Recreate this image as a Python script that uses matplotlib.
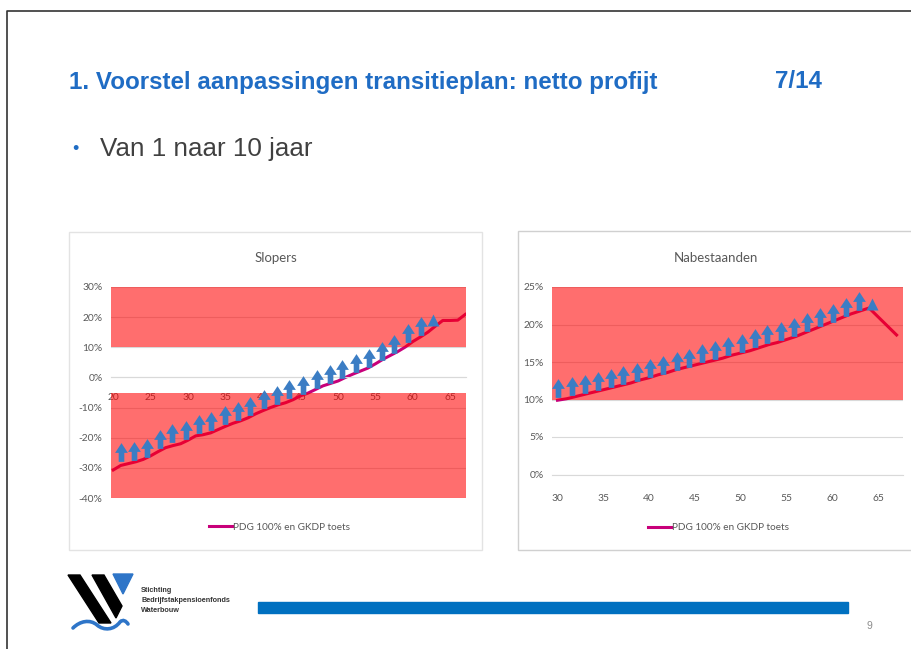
import matplotlib.pyplot as plt
from matplotlib.path import Path
from matplotlib.patches import Rectangle, Polygon, PathPatch
from matplotlib.ticker import FuncFormatter

W, H = 911, 649

# --- data ---
slopers_age = list(range(20, 68))
slopers_pdg = [-30.7, -29.2, -28.6, -28.0, -27.2, -26.0, -24.6, -23.3, -22.6, -22.0,
               -20.8, -19.4, -19.0, -18.4, -17.3, -16.2, -15.2, -14.4, -13.4, -12.1,
               -11.0, -10.0, -9.1, -8.4, -7.4, -6.1, -5.2, -4.0, -2.8, -2.0,
               -1.2, 0.0, 1.1, 2.1, 3.1, 4.5, 6.0, 7.3, 8.6, 10.1,
               11.9, 13.4, 15.0, 17.0, 18.9, 18.9, 19.0, 20.9]
slopers_arrow_age = [21.1, 22.8, 24.5, 26.2, 27.9, 29.7, 31.5, 33.1, 34.9, 36.6,
                     38.3, 40.1, 41.8, 43.5, 45.4, 47.2, 48.9, 50.6, 52.4, 54.1,
                     55.9, 57.5, 59.3, 61.1, 62.7]
slopers_arrow_val = [-24.8, -24.4, -23.3, -20.3, -18.5, -17.3, -15.3, -14.5, -12.6, -11.0,
                     -9.6, -7.1, -5.7, -4.0, -2.5, -0.6, 1.0, 2.8, 4.8, 6.5,
                     8.9, 11.1, 14.8, 17.1, 18.9]
slopers_bands = [(10, 30), (-40, -5)]

nabest_age = list(range(30, 68))
nabest_pdg = [9.9, 10.1, 10.4, 10.7, 11.0, 11.3, 11.6, 11.9, 12.2, 12.6,
              12.9, 13.3, 13.6, 14.0, 14.3, 14.6, 14.9, 15.2, 15.5, 15.9,
              16.2, 16.5, 16.9, 17.3, 17.6, 18.0, 18.4, 18.9, 19.4, 19.9,
              20.4, 20.9, 21.4, 21.8, 22.2, 21.0, 19.8, 18.6]
nabest_arrow_age = [30.1, 31.6, 33.0, 34.4, 35.8, 37.2, 38.7, 40.1, 41.5, 43.0,
                    44.4, 45.8, 47.2, 48.6, 50.1, 51.5, 52.9, 54.4, 55.8, 57.2,
                    58.6, 60.1, 61.5, 62.9, 64.3]
nabest_arrow_val = [11.6, 11.8, 12.1, 12.5, 12.9, 13.3, 13.7, 14.2, 14.6, 15.2,
                    15.6, 16.2, 16.6, 17.1, 17.6, 18.2, 18.7, 19.2, 19.7, 20.3,
                    21.0, 21.6, 22.3, 23.1, 22.8]
nabest_bands = [(10, 25)]

legend_label = 'PDG 100% en GKDP toets'
BLUE = '#1F6CC4'
ARROW = '#3B7DC4'
LINE = '#C8007A'
TXT = '#595959'
GRID = '#D9D9D9'

arrow = Path([(0, 0.5), (0.34, -0.02), (0.15, -0.02), (0.15, -0.5), (-0.15, -0.5),
              (-0.15, -0.02), (-0.34, -0.02), (0, 0.5)],
             [Path.MOVETO] + [Path.LINETO] * 6 + [Path.CLOSEPOLY])


def box(x0, y0, x1, y1):
    # pixel box -> figure fraction rect
    return [x0 / W, 1 - y1 / H, (x1 - x0) / W, (y1 - y0) / H]


fig = plt.figure(figsize=(W / 100, H / 100), dpi=100)
bg = fig.add_axes([0, 0, 1, 1], zorder=0)
bg.set_xlim(0, W)
bg.set_ylim(H, 0)
bg.axis('off')

# slide frame
bg.plot([6.5, 6.5, W], [H, 10.5, 10.5], color='#333333', lw=1.2)

bg.text(69, 82, '1. Voorstel aanpassingen transitieplan: netto profijt', color=BLUE,
        fontsize=17.4, fontweight='bold', family='Liberation Sans', va='center')
bg.text(775, 82, '7/14', color=BLUE, fontsize=17.4, fontweight='bold',
        family='Liberation Sans', va='center')
bg.text(72, 149, '•', color=BLUE, fontsize=13, family='Liberation Sans', va='center')
bg.text(100, 149, 'Van 1 naar 10 jaar', color='#404040', fontsize=18.7,
        family='Liberation Sans', va='center')

# chart panels
bg.add_patch(Rectangle((69, 232), 413, 318, fc='white', ec='#E3E3E3', lw=1))
bg.add_patch(Rectangle((518, 231), 400, 319, fc='white', ec='#D0D0D0', lw=1))

# footer: logo, bar, page number
bg.add_patch(Polygon([(68, 575), (80, 575), (111, 623), (99, 623)], color='black'))
bg.add_patch(Polygon([(92, 575), (104, 575), (122, 606), (116, 618)], color='black'))
bg.add_patch(Polygon([(113, 574), (133, 574), (123, 594)], color='#2E75C8'))
wave = Path([(73, 628), (80, 621), (90, 619), (97, 625), (104, 631), (114, 630), (120, 622),
             (123, 619), (126, 621), (128, 624)],
            [Path.MOVETO, Path.CURVE4, Path.CURVE4, Path.CURVE4, Path.CURVE4, Path.CURVE4,
             Path.CURVE4, Path.CURVE4, Path.CURVE4, Path.CURVE4])
bg.add_patch(PathPatch(wave, fc='none', ec='#2E75C8', lw=2.6, capstyle='round'))
for i, s in enumerate(['Stichting', 'Bedrijfstakpensioenfonds', 'Waterbouw']):
    bg.text(141, 591 + i * 9.5, s, fontsize=5.2, fontweight='bold', color='#333333',
            family='Liberation Sans', va='center')
bg.add_patch(Rectangle((258, 602), 590, 11, color='#0070C0'))
bg.text(869, 626, '9', fontsize=7.5, color='#8C8C8C', family='Liberation Sans',
        va='center', ha='center')


def chart(rect, title, title_xy, ages, pdg, a_age, a_val, bands, xlim, ylim, yticks,
          xticks, tickpad, leg_xy):
    ax = fig.add_axes(box(*rect), zorder=1)
    ax.patch.set_alpha(0)
    ax.set_axisbelow(True)
    ax.set_xlim(*xlim)
    ax.set_ylim(*ylim)
    ax.set_yticks(yticks)
    ax.set_xticks(xticks)
    ax.yaxis.set_major_formatter(FuncFormatter(lambda v, p: f'{v:.0f}%'))
    ax.grid(axis='y', color=GRID, lw=0.8)
    for s in ['top', 'right', 'left']:
        ax.spines[s].set_visible(False)
    ax.spines['bottom'].set_position(('data', 0))
    ax.spines['bottom'].set_color(GRID)
    ax.tick_params(length=0, labelsize=7.4, labelcolor=TXT)
    ax.tick_params(axis='x', pad=tickpad)
    ax.tick_params(axis='y', pad=6)
    for lab in ax.get_xticklabels() + ax.get_yticklabels():
        lab.set_family('Lato')
    line, = ax.plot(ages, pdg, color=LINE, lw=2.2, zorder=2, label=legend_label)
    for lo, hi in bands:
        ax.axhspan(lo, hi, color='#FF0000', alpha=0.57, lw=0, zorder=3)
    ax.plot(a_age[:-1], a_val[:-1], ls='none', marker=arrow, ms=13.5, color=ARROW,
            mec='none', zorder=4)
    ax.plot(a_age[-1:], a_val[-1:], ls='none', marker='^', ms=8.5, color=ARROW,
            mec='none', zorder=4)
    bg.text(title_xy[0], title_xy[1], title, fontsize=9.5, color=TXT, family='Lato',
            ha='center', va='center')
    fig.legend(handles=[line], loc='center left',
               bbox_to_anchor=(leg_xy[0] / W, 1 - leg_xy[1] / H), frameon=False,
               prop={'family': 'Lato', 'size': 7.2}, labelcolor=TXT, borderpad=0,
               handlelength=2.3, handletextpad=0.1)
    return ax


chart((111, 287, 466, 498), 'Slopers', (276, 258), slopers_age, slopers_pdg,
      slopers_arrow_age, slopers_arrow_val, slopers_bands, (19.7, 67.1), (-40, 30),
      range(-40, 31, 10), range(20, 66, 5), 11, (204, 527))
chart((552, 287, 903, 474.5), 'Nabestaanden', (716, 258), nabest_age, nabest_pdg,
      nabest_arrow_age, nabest_arrow_val, nabest_bands, (29.4, 67.7), (0, 25),
      range(0, 26, 5), range(30, 66, 5), 14, (643, 528))

fig.savefig('out.png', dpi=100)
